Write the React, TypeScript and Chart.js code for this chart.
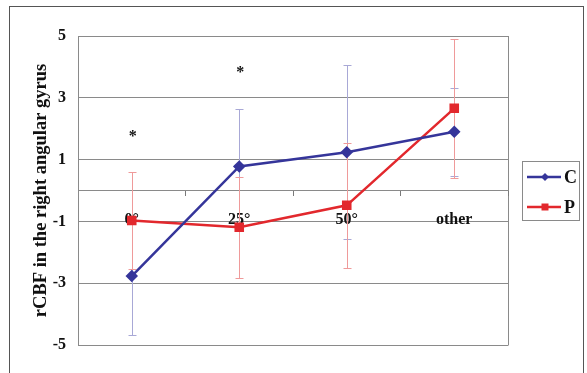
import React, { useEffect, useRef } from "react";
import { Chart, registerables } from "chart.js";

Chart.register(...registerables);

const categories = ["0°", "25°", "50°", "other"];
const cValues = [-2.77, 0.78, 1.24, 1.9];
const cErrors = [1.91, 1.87, 2.82, 1.42];
const pValues = [-0.97, -1.19, -0.48, 2.66];
const pErrors = [1.58, 1.64, 2.03, 2.24];
const asteriskLevels: (number | null)[] = [1.84, 3.9, null, null];
const yTicks = [-5, -3, -1, 1, 3, 5];
const yTitle = "rCBF in the right angular gyrus";

const C_COLOR = "#35359a";
const P_COLOR = "#e2282d";
const C_ERR = "#a8a8d6";
const P_ERR = "#ef9a9a";
const FONT = "'Liberation Serif', 'Times New Roman', serif";

const errorBarPlugin = {
  id: "errorBars",
  beforeDatasetsDraw(chart: any) {
    const { ctx, scales } = chart;
    const xs = scales.x;
    const ys = scales.y;
    const sets = [
      { v: cValues, e: cErrors, color: C_ERR },
      { v: pValues, e: pErrors, color: P_ERR },
    ];
    ctx.save();
    ctx.lineWidth = 1;
    for (const s of sets) {
      ctx.strokeStyle = s.color;
      s.v.forEach((v, i) => {
        const x = Math.round(xs.getPixelForValue(i)) + 0.5;
        const y1 = Math.round(ys.getPixelForValue(v + s.e[i])) + 0.5;
        const y2 = Math.round(ys.getPixelForValue(v - s.e[i])) + 0.5;
        ctx.beginPath();
        ctx.moveTo(x, y1);
        ctx.lineTo(x, y2);
        ctx.moveTo(x - 4, y1);
        ctx.lineTo(x + 4, y1);
        ctx.moveTo(x - 4, y2);
        ctx.lineTo(x + 4, y2);
        ctx.stroke();
      });
    }
    ctx.restore();
  },
};

const framePlugin = {
  id: "frame",
  beforeDraw(chart: any) {
    const { ctx, width, height, chartArea } = chart;
    ctx.save();
    ctx.fillStyle = "#ffffff";
    ctx.fillRect(0, 0, width, height);
    ctx.strokeStyle = "#555555";
    ctx.lineWidth = 1;
    ctx.strokeRect(9.5, 6.5, 574, 400);
    ctx.strokeStyle = "#8a8a8a";
    ctx.beginPath();
    const r = Math.round(chartArea.right) + 0.5;
    ctx.moveTo(r, chartArea.top);
    ctx.lineTo(r, chartArea.bottom + 0.5);
    ctx.stroke();
    ctx.restore();
  },
  afterDatasetsDraw(chart: any) {
    const { ctx, scales } = chart;
    ctx.save();
    ctx.fillStyle = "#111111";
    ctx.font = `bold 16px ${FONT}`;
    ctx.textAlign = "center";
    ctx.textBaseline = "middle";
    asteriskLevels.forEach((lv, i) => {
      if (lv === null) return;
      ctx.fillText("*", scales.x.getPixelForValue(i) + 1, scales.y.getPixelForValue(lv) + 3);
    });
    ctx.restore();
  },
  afterDraw(chart: any) {
    const { ctx } = chart;
    ctx.save();
    ctx.strokeStyle = "#8a8a8a";
    ctx.lineWidth = 1;
    ctx.strokeRect(522.5, 161.5, 57, 59);
    const entries = [
      { label: "C", color: C_COLOR, y: 177, style: "diamond" },
      { label: "P", color: P_COLOR, y: 207, style: "square" },
    ];
    for (const e of entries) {
      ctx.strokeStyle = e.color;
      ctx.fillStyle = e.color;
      ctx.lineWidth = 2.5;
      ctx.beginPath();
      ctx.moveTo(527, e.y);
      ctx.lineTo(561, e.y);
      ctx.stroke();
      ctx.beginPath();
      if (e.style === "diamond") {
        ctx.moveTo(545, e.y - 4);
        ctx.lineTo(549, e.y);
        ctx.lineTo(545, e.y + 4);
        ctx.lineTo(541, e.y);
        ctx.closePath();
      } else {
        ctx.rect(541.5, e.y - 3.5, 7, 7);
      }
      ctx.fill();
      ctx.fillStyle = "#111111";
      ctx.font = `bold 18px ${FONT}`;
      ctx.textAlign = "left";
      ctx.textBaseline = "middle";
      ctx.fillText(e.label, 564, e.y + 1);
    }
    ctx.restore();
  },
};

export default function App() {
  const ref = useRef<HTMLCanvasElement>(null);
  useEffect(() => {
    if (!ref.current) return;
    const chart = new Chart(ref.current, {
      type: "line",
      data: {
        labels: categories,
        datasets: [
          {
            label: "C",
            data: cValues,
            borderColor: C_COLOR,
            backgroundColor: C_COLOR,
            borderWidth: 2.5,
            pointStyle: "rectRot",
            pointRadius: 4.5,
            pointHoverRadius: 4.5,
            tension: 0,
          },
          {
            label: "P",
            data: pValues,
            borderColor: P_COLOR,
            backgroundColor: P_COLOR,
            borderWidth: 2.5,
            pointStyle: "rect",
            pointRadius: 5,
            pointHoverRadius: 5,
            tension: 0,
          },
        ],
      },
      options: {
        responsive: false,
        animation: false,
        devicePixelRatio: 1,
        layout: { padding: { left: 0, top: 36, right: 79, bottom: 28 } },
        plugins: { legend: { display: false }, tooltip: { enabled: false } },
        scales: {
          x: {
            type: "category",
            position: { y: 0 } as any,
            offset: true,
            grid: {
              offset: true,
              drawOnChartArea: false,
              drawTicks: true,
              tickLength: 5,
              color: "#7a7a7a",
            },
            border: { display: true, color: "#8a8a8a" },
            ticks: {
              autoSkip: false,
              maxRotation: 0,
              padding: 15,
              color: "#111111",
              font: { family: FONT, size: 16, weight: "bold" },
            },
          },
          y: {
            min: -5,
            max: 5,
            afterFit(scale: any) {
              scale.width = 78;
            },
            afterBuildTicks(scale: any) {
              scale.ticks = yTicks.map((v) => ({ value: v }));
            },
            grid: { color: "#8a8a8a", drawTicks: false },
            border: { display: true, color: "#8a8a8a" },
            ticks: {
              padding: 12,
              color: "#111111",
              font: { family: FONT, size: 16, weight: "bold" },
            },
            title: {
              display: true,
              text: yTitle,
              color: "#111111",
              padding: { top: 30, bottom: 0 },
              font: { family: FONT, size: 18.5, weight: "bold" },
            },
          },
        },
      },
      plugins: [framePlugin, errorBarPlugin],
    });
    return () => chart.destroy();
  }, []);
  return (
    <div style={{ position: "absolute", left: 0, top: 0, width: 587, height: 373 }}>
      <canvas ref={ref} width={587} height={373} style={{ width: 587, height: 373 }} />
    </div>
  );
}
